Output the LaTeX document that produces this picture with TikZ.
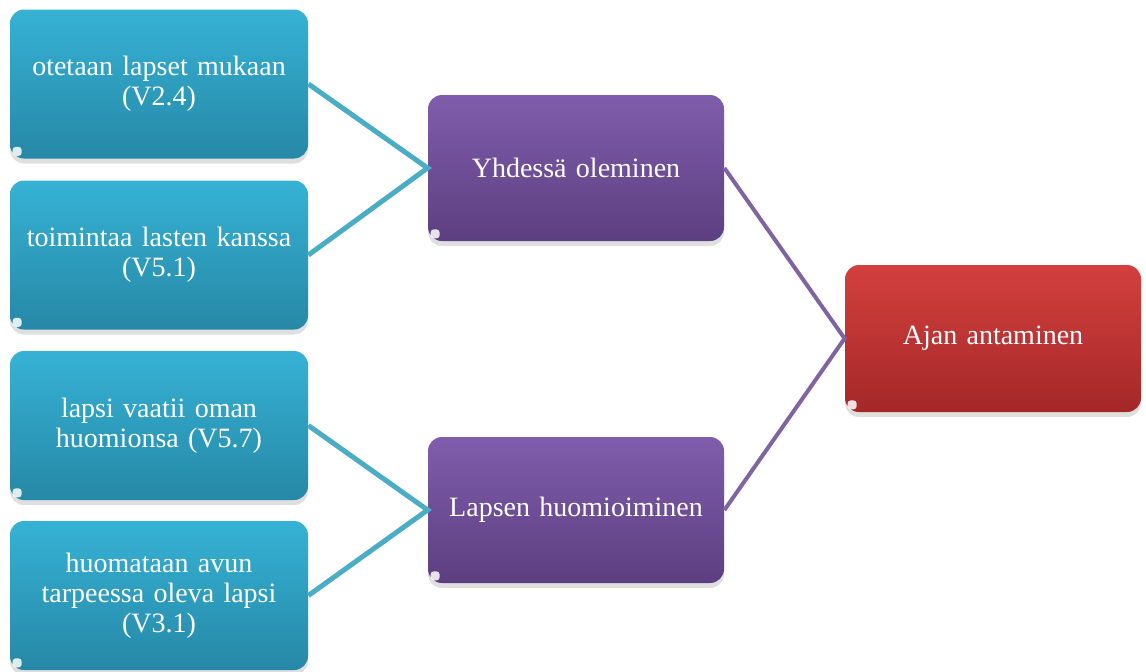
\documentclass[tikz,border=0pt]{standalone}
\usepackage{fontspec}
\setmainfont{Liberation Serif}
\usetikzlibrary{shadows}
\definecolor{bluetop}{RGB}{54,178,213}
\definecolor{bluebot}{RGB}{38,136,166}
\definecolor{purtop}{RGB}{128,93,172}
\definecolor{purbot}{RGB}{92,63,128}
\definecolor{redtop}{RGB}{211,64,62}
\definecolor{redbot}{RGB}{164,40,40}
\definecolor{blueline}{RGB}{75,172,198}
\definecolor{purline}{RGB}{128,100,162}
\tikzset{
  box/.style={rounded corners=7pt,align=center,text=white,inner sep=4pt,
    font=\fontsize{14}{15}\selectfont,
    drop shadow={opacity=0.25,shadow xshift=0pt,shadow yshift=-2.5pt}},
  leaf/.style={box,top color=bluetop,bottom color=bluebot,text width=140pt,minimum width=149pt,minimum height=74.5pt},
  mid/.style={box,top color=purtop,bottom color=purbot,text width=140pt,minimum width=148pt,minimum height=73pt},
  root/.style={box,top color=redtop,bottom color=redbot,text width=140pt,minimum width=148pt,minimum height=73.5pt},
  gloss/.style={fill=white,opacity=0.85,rounded corners=1.5pt},
}
\begin{document}
\begin{tikzpicture}[x=0.5pt,y=-0.5pt]
		\useasboundingbox (0,0) rectangle (1146,671);
		\node[leaf] (ota) at (159,84) {otetaan lapset mukaan\\(V2.4)};
		\node[leaf] (toim) at (159,255) {toimintaa lasten kanssa\\(V5.1)};
		\node[leaf] (vaat) at (159,425.5) {lapsi vaatii oman\\huomionsa (V5.7)};
		\node[leaf] (huom) at (159,595.5) {huomataan avun\\tarpeessa oleva lapsi\\(V3.1)};
		\node[mid] (yhd) at (576,168) {Yhdessä oleminen};
		\node[mid] (laps) at (576,510) {Lapsen huomioiminen};
		\node[root] (ajan) at (993,338.5) {Ajan antaminen};
		\foreach \n in {ota,toim,vaat,huom,yhd,laps,ajan}
			\fill[gloss] ([xshift=1.5pt,yshift=1.5pt]\n.south west) rectangle ++(4.5pt,4.5pt);
		\draw[blueline,line width=2.5pt] (ota.east) -- (yhd.west) -- (toim.east);
		\draw[blueline,line width=2.5pt] (vaat.east) -- (laps.west) -- (huom.east);
		\draw[purline,line width=2pt] (yhd.east) -- (ajan.west) -- (laps.east);
	\end{tikzpicture}
\end{document}
